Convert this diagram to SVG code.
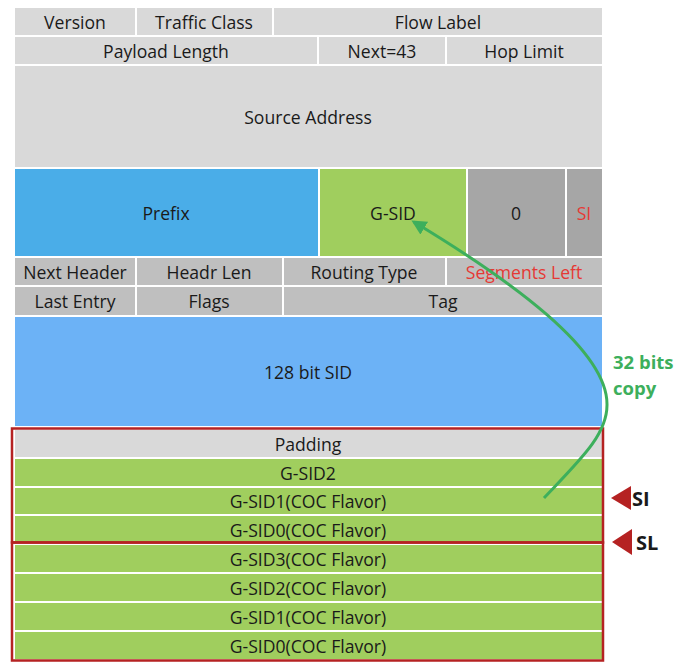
<svg xmlns="http://www.w3.org/2000/svg" width="688" height="672" viewBox="0 0 688 672">
<style>
text{font-family:"Open Sans","Noto Sans","DejaVu Sans",sans-serif;font-size:17.6px;fill:#1a1a1a;text-anchor:middle;dominant-baseline:central}
.lg{fill:#D9D9D9}.mg{fill:#BFBFBF}.dg{fill:#A6A6A6}.bl{fill:#4AADE8}.lb{fill:#6CB2F6}.gr{fill:#A0CE5E}
.red{fill:#E53935}
.box{fill:none;stroke:#B52222;stroke-width:2.5}
.side{font-weight:bold;font-size:20px;text-anchor:start;fill:#1a1a1a}
.cp{font-weight:bold;font-size:18.5px;text-anchor:start;fill:#3DAF5C}
</style>
<defs>
<marker id="ah" viewBox="0 0 10 10" refX="8" refY="5" markerWidth="5" markerHeight="5" orient="auto" markerUnits="strokeWidth">
<path d="M0,0 L10,5 L0,10 z" fill="#3DAF5C"/>
</marker>
</defs>
<rect width="688" height="672" fill="#fff"/>
<g id="ipv6">
<g id="version"><rect class="lg" x="15" y="8" width="120" height="27"/><text x="75" y="21.5">Version</text></g>
<g id="traffic-class"><rect class="lg" x="137" y="8" width="135" height="27"/><text x="204" y="21.5">Traffic Class</text></g>
<g id="flow-label"><rect class="lg" x="274" y="8" width="328" height="27"/><text x="438" y="21.5">Flow Label</text></g>
<g id="payload"><rect class="lg" x="15" y="37" width="302" height="27"/><text x="166" y="50.5">Payload Length</text></g>
<g id="next"><rect class="lg" x="319" y="37" width="126" height="27"/><text x="382" y="50.5">Next=43</text></g>
<g id="hop"><rect class="lg" x="447" y="37" width="155" height="27"/><text x="524" y="50.5">Hop Limit</text></g>
<g id="source"><rect class="lg" x="15" y="66" width="587" height="101"/><text x="308" y="117">Source Address</text></g>
</g>
<g id="dest">
<g id="prefix"><rect class="bl" x="15" y="169" width="303" height="87"/><text x="166" y="213">Prefix</text></g>
<g id="gsid"><rect class="gr" x="320" y="169" width="146" height="87"/><text x="393" y="213">G-SID</text></g>
<g id="zero"><rect class="dg" x="468" y="169" width="97" height="87"/><text x="516" y="213">0</text></g>
<g id="si-cell"><rect class="dg" x="567" y="169" width="35" height="87"/><text class="red" x="584" y="213">SI</text></g>
</g>
<g id="srh">
<g id="next-header"><rect class="mg" x="15" y="258" width="120" height="27"/><text x="75" y="272">Next Header</text></g>
<g id="hdr-len"><rect class="mg" x="137" y="258" width="145" height="27"/><text x="209" y="272">Headr Len</text></g>
<g id="routing-type"><rect class="mg" x="284" y="258" width="161" height="27"/><text x="364" y="272">Routing Type</text></g>
<g id="segments-left"><rect class="mg" x="447" y="258" width="155" height="27"/><text class="red" x="524" y="272">Segments Left</text></g>
<g id="last-entry"><rect class="mg" x="15" y="287" width="120" height="28"/><text x="75" y="301">Last Entry</text></g>
<g id="flags"><rect class="mg" x="137" y="287" width="145" height="28"/><text x="209" y="301">Flags</text></g>
<g id="tag"><rect class="mg" x="284" y="287" width="318" height="28"/><text x="443" y="301">Tag</text></g>
<g id="sid128"><rect class="lb" x="15" y="317" width="587" height="109"/><text x="308" y="372">128 bit SID</text></g>
</g>
<g id="container1">
<g id="padding"><rect class="lg" x="15" y="430" width="587" height="27"/><text x="308" y="443.5">Padding</text></g>
<g id="c1-gsid2"><rect class="gr" x="15" y="459" width="587" height="27"/><text x="308" y="472.5">G-SID2</text></g>
<g id="c1-gsid1"><rect class="gr" x="15" y="488" width="587" height="26"/><text x="308" y="501">G-SID1(COC Flavor)</text></g>
<g id="c1-gsid0"><rect class="gr" x="15" y="516" width="587" height="26"/><text x="308" y="530">G-SID0(COC Flavor)</text></g>
<rect class="box" x="12" y="428.5" width="591" height="114"/>
</g>
<g id="container2">
<g id="c2-gsid3"><rect class="gr" x="15" y="545" width="587" height="27"/><text x="308" y="558.5">G-SID3(COC Flavor)</text></g>
<g id="c2-gsid2"><rect class="gr" x="15" y="574" width="587" height="27"/><text x="308" y="587.5">G-SID2(COC Flavor)</text></g>
<g id="c2-gsid1"><rect class="gr" x="15" y="603" width="587" height="27"/><text x="308" y="616.5">G-SID1(COC Flavor)</text></g>
<g id="c2-gsid0"><rect class="gr" x="15" y="632" width="587" height="27"/><text x="308" y="645.5">G-SID0(COC Flavor)</text></g>
<rect class="box" x="12" y="542.5" width="591" height="118"/>
</g>
<g id="pointers">
<g id="si-pointer"><path d="M611,498 L631,486 L631,510 z" fill="#B52222"/><text class="side" x="632" y="498">SI</text></g>
<g id="sl-pointer"><path d="M612,542 L632,529 L632,555 z" fill="#B52222"/><text class="side" x="636" y="542">SL</text></g>
</g>
<g id="connectors">
<path d="M544,498 C580,460 607,435 607,405 C608,350 510,280 414,222" fill="none" stroke="#3DAF5C" stroke-width="3" marker-end="url(#ah)"/>
<text class="cp" x="613" y="361">32 bits</text>
<text class="cp" x="613" y="387">copy</text>
</g>
</svg>
